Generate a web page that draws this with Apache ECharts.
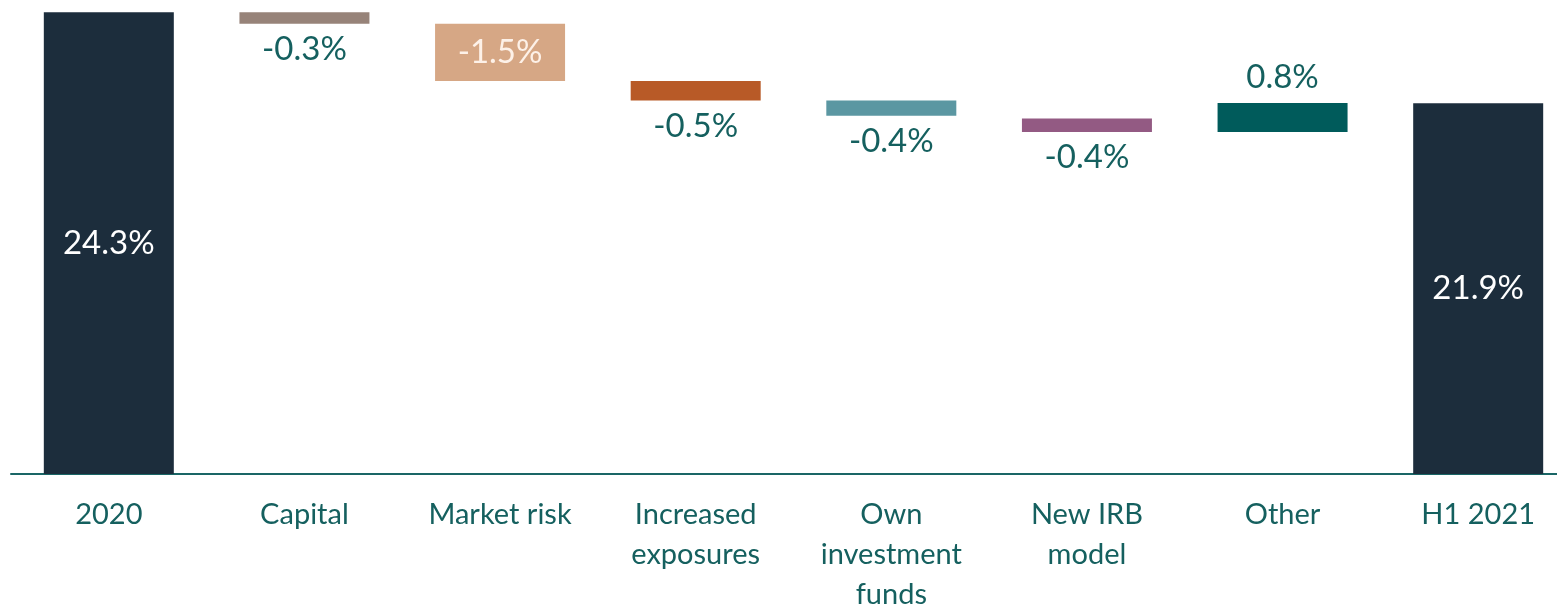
<!DOCTYPE html>
<html>
<head>
<meta charset="utf-8">
<title>Waterfall</title>
<script src="https://cdn.jsdelivr.net/npm/echarts@6/dist/echarts.min.js"></script>
<style>
    html, body { margin: 0; padding: 0; background: #fff; }
    #main { width: 1557px; height: 609px; }
</style>
</head>
<body>
<div id="main"></div>
<script>
// 类目与数值
var categories = ['2020', 'Capital', 'Market risk', 'Increased\nexposures', 'Own\ninvestment\nfunds', 'New IRB\nmodel', 'Other', 'H1 2021'];
var startTotal = 24.3;
var endTotal = 21.9;
// 中间各步骤的上沿和下沿
var stepHigh = [24.3, 24.0, 22.49, 21.97, 21.5, 21.91];
var stepLow = [24.0, 22.49, 21.97, 21.57, 21.14, 21.14];
var labels = ['24.3%', '-0.3%', '-1.5%', '-0.5%', '-0.4%', '-0.4%', '0.8%', '21.9%'];
var yMin = 12.12;
var yMax = 24.3;

var colors = ['#1c2d3c', '#978379', '#d6a785', '#b85a27', '#5b97a2', '#935a83', '#005b5b', '#1c2d3c'];
var labelPos = ['inside', 'bottom', 'inside', 'bottom', 'bottom', 'bottom', 'top', 'inside'];
var labelColor = ['#ffffff', '#15605f', '#fdf1e8', '#15605f', '#15605f', '#15605f', '#15605f', '#ffffff'];

// 组装透明底座 + 可见部分
var baseData = [yMin];
var sizeData = [{value: startTotal - yMin}];
for (var i = 0; i < stepHigh.length; i++) {
    baseData.push(stepLow[i]);
    sizeData.push({value: +(stepHigh[i] - stepLow[i]).toFixed(3)});
}
baseData.push(yMin);
sizeData.push({value: endTotal - yMin});

sizeData.forEach(function (d, i) {
    d.itemStyle = {color: colors[i]};
    d.label = {position: labelPos[i], color: labelColor[i]};
});

var myChart = echarts.init(document.getElementById('main'));
var option = {
    animation: false,
    grid: {left: 11, right: -19, top: 12.3, bottom: 135, outerBoundsMode: 'none', containLabel: false},
    xAxis: {
        type: 'category',
        data: categories,
        axisTick: {show: false},
        axisLine: {lineStyle: {color: '#1a6666', width: 2}},
        axisLabel: {
            interval: 0,
            color: '#15605f',
            fontFamily: 'Lato',
            fontSize: 29,
            lineHeight: 40,
            margin: 21
        }
    },
    yAxis: {
        type: 'value',
        min: yMin,
        max: yMax,
        show: false,
        splitLine: {show: false}
    },
    series: [
        {
            name: 'base',
            type: 'bar',
            stack: 'w',
            barWidth: 130,
            itemStyle: {color: 'transparent'},
            data: baseData,
            silent: true
        },
        {
            name: 'change',
            type: 'bar',
            stack: 'w',
            barWidth: 130,
            data: sizeData,
            label: {
                show: true,
                fontFamily: 'Lato',
                fontSize: 33,
                distance: 9,
                formatter: function (p) {
                    return labels[p.dataIndex];
                }
            }
        }
    ]
};
myChart.setOption(option);
</script>
</body>
</html>
